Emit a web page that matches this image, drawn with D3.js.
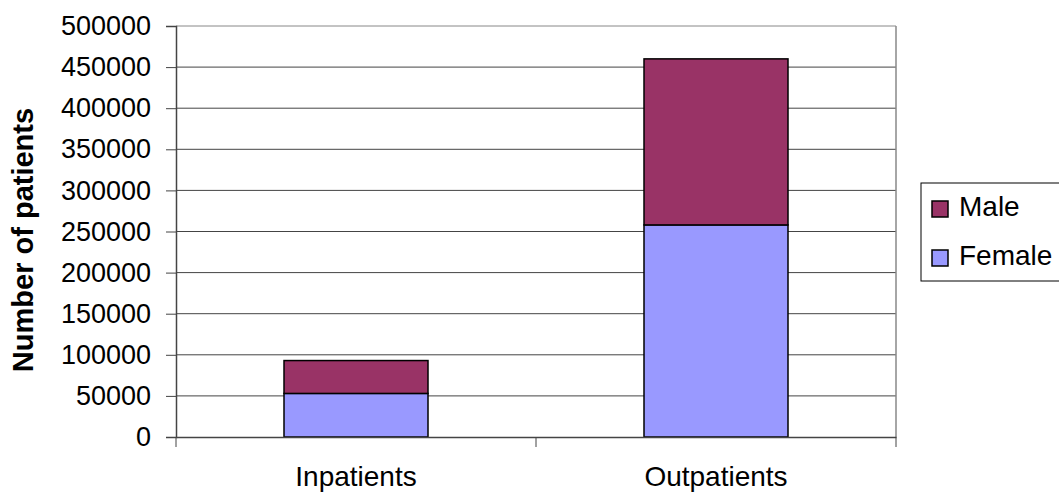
<!DOCTYPE html>
<html lang="en">
<head>
<meta charset="UTF-8">
<title>patients</title>
<script src="https://cdn.jsdelivr.net/npm/d3@7"></script>
<style>
    body{ margin:0; background:#fff; }
    svg{ display:block; font-family:"Liberation Sans", Arial, sans-serif; }
</style>
</head>
<body>
<script type="text/javascript">

    let categories = ["Inpatients", "Outpatients"];
    let female = [53000, 258000];
    let male = [40000, 202000];
    let seriesNames = ["Female", "Male"];
    let colors = {Female:"#9999FF", Male:"#993366"};
    let yTicks = [0,50000,100000,150000,200000,250000,300000,350000,400000,450000,500000];

    let width = 1059, height = 497;
    let plotLeft = 176, plotRight = 896, plotTop = 26, plotBottom = 437;

    let svg = d3.select("body").append("svg")
        .attr("width", width)
        .attr("height", height);

    let x = d3.scaleBand()
        .domain(categories)
        .range([plotLeft, plotRight])
        .paddingInner(0.6)
        .paddingOuter(0.3);

    let y = d3.scaleLinear()
        .domain([0, 500000])
        .range([plotBottom, plotTop]);

    // gridlines
    svg.append("g").selectAll("line")
        .data(yTicks.slice(1))
        .join("line")
        .attr("x1", plotLeft).attr("x2", plotRight)
        .attr("y1", d => y(d)).attr("y2", d => y(d))
        .attr("stroke", d => d == 500000 ? "#888" : "#444")
        .attr("stroke-width", 1);

    // right border
    svg.append("line")
        .attr("x1", plotRight).attr("x2", plotRight)
        .attr("y1", plotTop).attr("y2", plotBottom)
        .attr("stroke", "#888").attr("stroke-width", 1.5);

    // stacked bars
    let rows = categories.map((c, i) => ({cat:c, Female:female[i], Male:male[i]}));
    let stack = d3.stack().keys(seriesNames)(rows);

    svg.append("g").selectAll("g")
        .data(stack)
        .join("g")
        .attr("fill", d => colors[d.key])
        .selectAll("rect")
        .data(d => d)
        .join("rect")
        .attr("x", d => x(d.data.cat))
        .attr("width", x.bandwidth())
        .attr("y", d => y(d[1]))
        .attr("height", d => y(d[0]) - y(d[1]))
        .attr("stroke", "#000")
        .attr("stroke-width", 1.5);

    // y axis
    let yAxis = d3.axisLeft(y).tickValues(yTicks).tickSize(10).tickPadding(15).tickFormat(d3.format("d"));
    let yG = svg.append("g").attr("transform", `translate(${plotLeft},0)`).call(yAxis);
    yG.select(".domain").attr("stroke", "#444").attr("stroke-width", 1.5);
    yG.selectAll(".tick line").attr("stroke", "#444");
    yG.selectAll("text").attr("font-size", 27).attr("fill", "#000")
        .attr("font-family", "Liberation Sans, Arial, sans-serif");

    // x axis
    let xAxis = d3.axisBottom(x).tickSize(0).tickPadding(0);
    let xG = svg.append("g").attr("transform", `translate(0,${plotBottom})`).call(xAxis);
    xG.select(".domain").attr("stroke", "#444").attr("stroke-width", 1.5);
    xG.selectAll("text").attr("font-size", 28).attr("fill", "#000")
        .attr("dy", null).attr("y", 49)
        .attr("font-family", "Liberation Sans, Arial, sans-serif");
    // category boundary ticks
    let bounds = [plotLeft, (plotLeft + plotRight) / 2, plotRight];
    xG.selectAll(".bound")
        .data(bounds)
        .join("line")
        .attr("class", "bound")
        .attr("x1", d => d).attr("x2", d => d)
        .attr("y1", 0).attr("y2", 10)
        .attr("stroke", "#444");

    // y title
    svg.append("text")
        .attr("transform", `translate(33,240) rotate(-90)`)
        .attr("text-anchor", "middle")
        .attr("font-size", 29)
        .attr("font-weight", "bold")
        .text("Number of patients");

    // legend
    let lg = svg.append("g");
    lg.append("rect")
        .attr("x", 921).attr("y", 183)
        .attr("width", 140).attr("height", 98)
        .attr("fill", "#fff").attr("stroke", "#000").attr("stroke-width", 1);
    let items = ["Male", "Female"];
    lg.selectAll(".sw")
        .data(items)
        .join("rect")
        .attr("class", "sw")
        .attr("x", 932)
        .attr("y", (d, i) => 201 + i * 49)
        .attr("width", 16).attr("height", 16)
        .attr("fill", d => colors[d])
        .attr("stroke", "#000").attr("stroke-width", 1.5);
    lg.selectAll(".lt")
        .data(items)
        .join("text")
        .attr("class", "lt")
        .attr("x", 959)
        .attr("y", (d, i) => 216 + i * 49)
        .attr("font-size", 28)
        .text(d => d);
</script>
</body>
</html>
